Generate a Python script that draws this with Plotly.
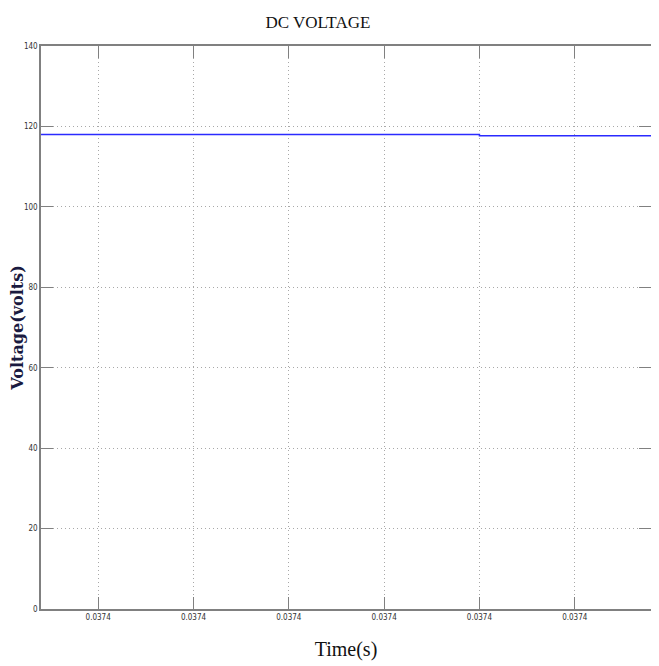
import plotly.graph_objects as go

# Data (time in seconds, voltage in volts)
time_s = [0.0373954, 0.0374000, 0.0374000, 0.0374018]
voltage_v = [118.0, 118.0, 117.7, 117.7]

x_tickvals = [0.037396, 0.037397, 0.037398, 0.037399, 0.037400, 0.037401]
x_ticktext = ["0.0374"] * 6
y_tickvals = [0, 20, 40, 60, 80, 100, 120, 140]
y_ticktext = ["0", "20", "40", "60", "80", "100", "120", "140"]

x_range = [0.0373954, 0.0374018]
y_range = [0, 140]

fig = go.Figure()
fig.add_trace(go.Scatter(
    x=time_s, y=voltage_v, mode="lines",
    line=dict(color="#2b2bff", width=1.5),
    showlegend=False, hoverinfo="skip",
))

tickfont = dict(family="Liberation Sans Narrow, DejaVu Sans Condensed, sans-serif", size=8, color="#333333")
axis_common = dict(
    showline=True, linecolor="#808080", linewidth=1.5, mirror="ticks",
    ticks="inside", ticklen=12, tickcolor="#808080", tickwidth=1,
    showgrid=True, gridcolor="#a8a8a8", griddash="1px,3px", gridwidth=1,
    zeroline=False, tickfont=tickfont, automargin=False,
)

# page body has an 8px default margin, so the figure is sized to fit the window
fig.update_layout(
    width=651, height=658,
    margin=dict(l=33, r=8, t=38, b=57),
    paper_bgcolor="white", plot_bgcolor="white",
    title=dict(text="DC VOLTAGE", x=0.476, xanchor="center", y=0.979, yanchor="middle",
               font=dict(family="Liberation Serif, serif", size=17, color="#111111")),
    xaxis=dict(range=x_range, tickvals=x_tickvals, ticktext=x_ticktext,
               title=dict(text="Time(s)", standoff=21,
                          font=dict(family="Liberation Serif, serif", size=20, color="#111111")),
               **axis_common),
    yaxis=dict(range=y_range, tickvals=y_tickvals, ticktext=y_ticktext,
               title=dict(text="<b>Voltage(volts)</b>", standoff=2,
                          font=dict(family="DejaVu Serif, serif", size=16, color="#1a1a40")),
               **axis_common),
)

fig.write_html("out.html")
